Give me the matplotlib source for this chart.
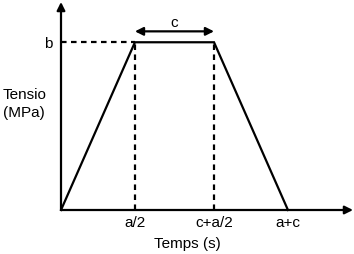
import matplotlib
matplotlib.use("Agg")
import matplotlib.pyplot as plt

plt.rcParams['font.family'] = ['Liberation Sans', 'DejaVu Sans']

# Data (schematic units)
a = 2.0
c = 1.07
b = 1.0
times = [0, a / 2, c + a / 2, a + c]
stress = [0, b, b, 0]
xtick_labels = ["a/2", "c+a/2", "a+c"]
ytick_labels = ["b"]

fig = plt.figure(figsize=(3.54, 2.54), dpi=100)
ax = fig.add_axes([61 / 354, 44 / 254, 292 / 354, 208 / 254])
xmax, ymax = 3.95, 1.24
ax.set_xlim(0, xmax)
ax.set_ylim(0, ymax)
for s in ax.spines.values():
    s.set_visible(False)

lw = 1.6
# main trapezoid
ax.plot(times, stress, color='black', lw=lw, solid_joinstyle='miter', clip_on=False, zorder=3)

# dashed guides
dash = (0, (2.5, 2))
ax.plot([0, times[1]], [b, b], color='black', lw=lw, linestyle=dash, clip_on=False)
ax.plot([times[1], times[1]], [0, b], color='black', lw=lw, linestyle=dash, clip_on=False)
ax.plot([times[2], times[2]], [0, b], color='black', lw=lw, linestyle=dash, clip_on=False)

# axes arrows
ap = dict(arrowstyle='-|>', mutation_scale=12, lw=lw, color='black', shrinkA=0, shrinkB=0)
ax.annotate('', xy=(xmax, 0), xytext=(0, 0), arrowprops=ap, annotation_clip=False)
ax.annotate('', xy=(0, ymax), xytext=(0, 0), arrowprops=ap, annotation_clip=False)

# c double arrow
yc = b + 0.065
ap2 = dict(arrowstyle='<|-|>', mutation_scale=12, lw=lw, color='black', shrinkA=0, shrinkB=0)
ax.annotate('', xy=(times[2], yc), xytext=(times[1], yc), arrowprops=ap2, annotation_clip=False)
ax.text((times[1] + times[2]) / 2, yc + 0.01, "c", ha='center', va='bottom', fontsize=11)

# ticks
ax.set_xticks(times[1:], xtick_labels, fontsize=11)
ax.set_yticks([b], ytick_labels, fontsize=11)
ax.tick_params(axis='both', length=0)
ax.tick_params(axis='x', pad=4)
ax.tick_params(axis='y', pad=6)

ax.set_xlabel("Temps (s)", fontsize=11)
ax.xaxis.set_label_coords((187 - 61) / 292, -27 / 208)
fig.text(3 / 354, 1 - 104 / 254, "Tensio\n(MPa)", ha='left', va='center', fontsize=11, linespacing=1.3)

fig.savefig("out.png", dpi=100)
